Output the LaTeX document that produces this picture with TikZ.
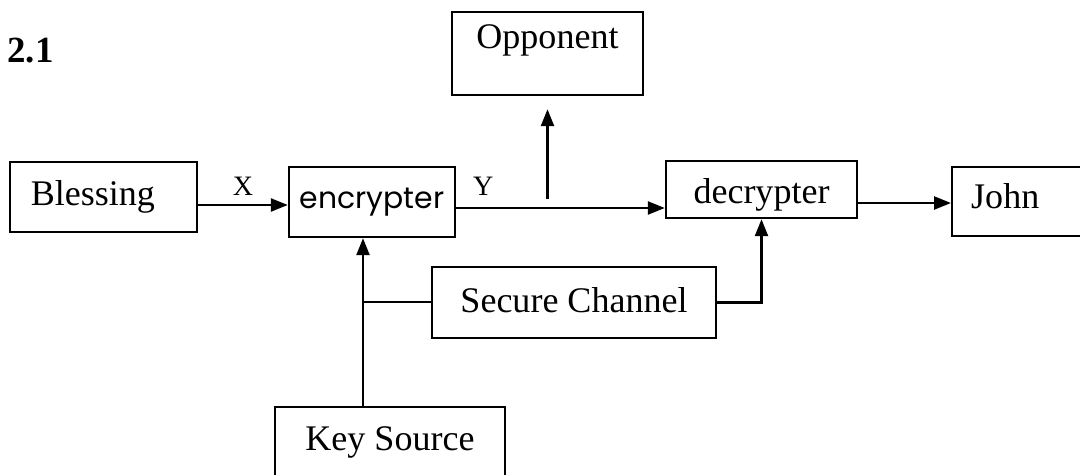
\documentclass[tikz,border=0pt]{standalone}
\usepackage{fontspec}
\setmainfont{Liberation Serif}
\newfontfamily\handfont{Poppins}
\usetikzlibrary{positioning, arrows.meta}

\begin{document}
\begin{tikzpicture}[x=0.02cm, y=-0.02cm,
        blk/.style={draw, line width=1.4pt, inner sep=0pt, anchor=base, font=\fontsize{20.5}{24}\selectfont},
        arr/.style={line width=1.4pt, -{Triangle[length=0.34cm, width=0.26cm]}},
        lnk/.style={line width=1.4pt},
        lbl/.style={inner sep=0pt, font=\fontsize{16}{19}\selectfont}]
        \useasboundingbox (0,0) rectangle (1080,474);
        \node[anchor=base west, inner sep=0pt, font=\fontsize{21}{25}\selectfont\bfseries] (title) at (7,62) {2.1};

        \node[blk, anchor=base west, inner xsep=0.42cm, text width=2.90cm, align=left, text height=0.86cm, text depth=0.54cm] (bless) at (8.6,205) {Blessing};
        \node[blk, minimum width=3.32cm, text height=0.82cm, text depth=0.58cm, font=\handfont\fontsize{17}{20}\selectfont] (enc) at (372,208) {encrypter};
        \node[blk, minimum width=3.82cm, text height=0.72cm, text depth=0.94cm] (opp) at (547.5,48) {Opponent};
        \node[blk, minimum width=3.82cm, text height=0.84cm, text depth=0.30cm] (dec) at (761.5,203) {decrypter};
        \node[blk, anchor=base west, inner xsep=0.38cm, text width=3.02cm, align=left, text height=0.82cm, text depth=0.56cm] (john) at (951,208) {John};
        \node[blk, minimum width=5.68cm, text height=0.90cm, text depth=0.52cm] (sec) at (574,312) {Secure Channel};
        \node[blk, minimum width=4.60cm, text height=0.86cm, text depth=1.40cm] (key) at (390,450) {Key Source};

        % plaintext and ciphertext
        \draw[arr] (bless.base east) -- (bless.base east -| enc.west) node[lbl, midway, above=0.16cm] (xlbl) {X};
        \draw[arr] (enc.base east) -- (enc.base east -| dec.west) node[lbl, pos=0.13, above=0.22cm] (ylbl) {Y};
        \draw[arr, shorten <=0.18cm, shorten >=0.26cm] (enc.base east -| opp.south) -- (opp.south);
        \draw[arr] (dec.base east) -- (dec.base east -| john.west);

        % key distribution
        \coordinate (kj) at (363,302);
        \draw[arr] (kj |- key.north) -- (kj |- enc.south);
        \draw[lnk] (kj) -- (kj -| sec.west);
        \draw[arr] (sec.east) -| (dec.south);
    \end{tikzpicture}
\end{document}
